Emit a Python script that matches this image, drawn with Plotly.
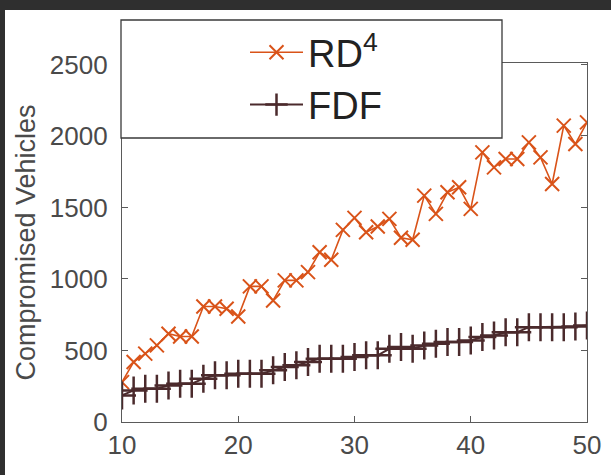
import plotly.graph_objects as go

x_vals = list(range(10, 51))
rd4 = [279, 419, 478, 536, 617, 598, 598, 808, 808, 792,
       738, 948, 948, 850, 990, 990, 1048, 1187, 1134, 1343,
       1427, 1327, 1367, 1420, 1288, 1274, 1583, 1455, 1606, 1641,
       1490, 1885, 1780, 1839, 1839, 1955, 1850, 1664, 2072, 1944,
       2095]
fdf = [186, 221, 233, 233, 256, 268, 268, 303, 326, 326,
       338, 338, 338, 361, 384, 396, 419, 443, 443, 443,
       454, 466, 466, 512, 524, 512, 535, 547, 559, 559,
       570, 594, 605, 628, 628, 663, 663, 663, 663, 668,
       675]
x_ticks = [10, 20, 30, 40, 50]
y_ticks = [0, 500, 1000, 1500, 2000, 2500]

W, H = 611, 475
L, R, T, B = 122, 24, 63, 53
PW, PH = W - L - R, H - T - B

def px(x):
    return (x - L) / PW

def py(y):
    return (H - B - y) / PH

ORANGE = "#D95319"
DARK = "#4B2A2C"
AX = "#5a5a5a"
FONT = "Liberation Sans, Arial, sans-serif"

fig = go.Figure()
fig.add_trace(go.Scatter(
    x=x_vals, y=rd4, name="RD<sup>4</sup>", mode="lines+markers",
    line=dict(color=ORANGE, width=1.6),
    marker=dict(symbol="x-thin-open", size=14, line=dict(color=ORANGE, width=2)),
    legendgroup="a"))
fig.add_trace(go.Scatter(
    x=x_vals, y=fdf, name="FDF", mode="lines+markers",
    line=dict(color=DARK, width=2),
    marker=dict(symbol="cross-thin-open", size=20, line=dict(color=DARK, width=2.5)),
    legendgroup="b"))

shapes = [
    # dark strips of the screenshot frame
    dict(type="rect", xref="paper", yref="paper", x0=px(0), x1=px(W), y0=py(10), y1=py(0),
         fillcolor="#2f2f2f", line=dict(width=0), layer="above"),
    dict(type="rect", xref="paper", yref="paper", x0=px(0), x1=px(5), y0=py(H), y1=py(0),
         fillcolor="#2f2f2f", line=dict(width=0), layer="above"),
    # legend box
    dict(type="rect", xref="paper", yref="paper", x0=px(121), x1=px(502), y0=py(138), y1=py(20),
         fillcolor="white", line=dict(color="#3a3a3a", width=1.3), layer="above"),
]

fig.update_layout(
    width=W, height=H,
    margin=dict(l=L, r=R, t=T, b=B, autoexpand=False),
    paper_bgcolor="white", plot_bgcolor="white",
    font=dict(family=FONT, color="#4a4a4a"),
    showlegend=True,
    legend=dict(x=px(245), y=py(21), xanchor="left", yanchor="top",
                bgcolor="rgba(0,0,0,0)", borderwidth=0,
                font=dict(size=38, color="#222222", family=FONT),
                itemwidth=53, tracegroupgap=0),
    shapes=shapes,
    xaxis=dict(range=[10, 50], tickvals=x_ticks, ticks="inside", ticklen=6,
               tickcolor=AX, tickwidth=1.2, showline=True, linecolor=AX, linewidth=1.3,
               mirror="ticks", showgrid=False, zeroline=False,
               tickfont=dict(size=26, color="#4a4a4a")),
    yaxis=dict(range=[0, 2510], tickvals=y_ticks, ticks="inside", ticklen=6,
               tickcolor=AX, tickwidth=1.2, showline=True, linecolor=AX, linewidth=1.3,
               mirror="ticks", showgrid=False, zeroline=False,
               tickfont=dict(size=26, color="#4a4a4a"), ticklabelstandoff=8,
               title=dict(text="Compromised Vehicles", font=dict(size=27, color="#4a4a4a"),
                          standoff=6)),
)

fig.write_html("out.html")
